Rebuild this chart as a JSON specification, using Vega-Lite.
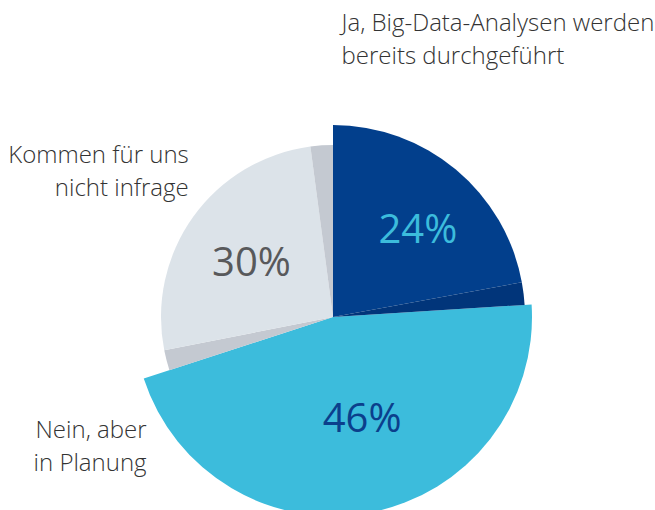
{
  "$schema": "https://vega.github.io/schema/vega-lite/v6.json",
  "width": 644,
  "height": 386,
  "autosize": {"type": "none"},
  "padding": {"left": 11, "top": 124, "right": 0, "bottom": 0},
  "background": "white",
  "config": {"view": {"stroke": null}},
  "datasets": {
    "segments": [
      {"answer": "Ja", "segment": "Ja", "share": 0.221},
      {"answer": "Ja", "segment": "Ja Kante", "share": 0.019},
      {"answer": "Nein", "segment": "Nein", "share": 0.46},
      {"answer": "Kommen", "segment": "Kommen Kante", "share": 0.019},
      {"answer": "Kommen", "segment": "Kommen", "share": 0.26},
      {"answer": "Kommen", "segment": "Kommen Kante", "share": 0.021}
    ],
    "labels": [
      {"key": "Ja", "answer": "Ja, Big-Data-Analysen werden\nbereits durchgeführt", "share": 0.24},
      {"key": "Nein", "answer": "Nein, aber\nin Planung", "share": 0.46},
      {"key": "Kommen", "answer": "Kommen für uns\nnicht infrage", "share": 0.30}
    ]
  },
  "layer": [
    {
      "data": {"name": "segments"},
      "transform": [
        {"stack": "share", "groupby": [], "as": ["s0", "s1"]},
        {"filter": "datum.answer === 'Nein'"}
      ],
      "mark": {"type": "arc", "radius": 199},
      "encoding": {
        "theta": {"field": "s0", "type": "quantitative", "stack": null, "scale": {"domain": [0, 1]}},
        "theta2": {"field": "s1"},
        "color": {"field": "segment", "type": "nominal", "legend": null,
          "scale": {"domain": ["Ja", "Ja Kante", "Nein", "Kommen", "Kommen Kante"],
                    "range": ["#023f8c", "#01357a", "#3cbcdc", "#dce3e9", "#c4c9d1"]}}
      }
    },
    {
      "data": {"name": "segments"},
      "transform": [
        {"stack": "share", "groupby": [], "as": ["s0", "s1"]},
        {"filter": "datum.answer === 'Ja'"}
      ],
      "mark": {"type": "arc", "radius": 192},
      "encoding": {
        "theta": {"field": "s0", "type": "quantitative", "stack": null, "scale": {"domain": [0, 1]}},
        "theta2": {"field": "s1"},
        "color": {"field": "segment", "type": "nominal", "legend": null}
      }
    },
    {
      "data": {"name": "segments"},
      "transform": [
        {"stack": "share", "groupby": [], "as": ["s0", "s1"]},
        {"filter": "datum.answer === 'Kommen'"}
      ],
      "mark": {"type": "arc", "radius": 172},
      "encoding": {
        "theta": {"field": "s0", "type": "quantitative", "stack": null, "scale": {"domain": [0, 1]}},
        "theta2": {"field": "s1"},
        "color": {"field": "segment", "type": "nominal", "legend": null}
      }
    },
    {
      "data": {"name": "labels"},
      "transform": [{"window": [{"op": "row_number", "as": "rank"}]}],
      "mark": {"type": "text", "radius": 121, "font": "Open Sans", "fontSize": 40, "color": "#3cbcdc", "dx": 2, "dy": 2},
      "encoding": {
        "theta": {"field": "share", "type": "quantitative", "stack": true, "scale": {"domain": [0, 1]}},
        "order": {"field": "rank", "type": "quantitative"},
        "text": {"condition": {"test": "datum.key === 'Ja'", "field": "share", "type": "quantitative", "format": ".0%"}, "value": ""}
      }
    },
    {
      "data": {"name": "labels"},
      "transform": [{"window": [{"op": "row_number", "as": "rank"}]}],
      "mark": {"type": "text", "radius": 107, "font": "Open Sans", "fontSize": 40, "color": "#0b3f8c", "dx": 9, "dy": -2},
      "encoding": {
        "theta": {"field": "share", "type": "quantitative", "stack": true, "scale": {"domain": [0, 1]}},
        "order": {"field": "rank", "type": "quantitative"},
        "text": {"condition": {"test": "datum.key === 'Nein'", "field": "share", "type": "quantitative", "format": ".0%"}, "value": ""}
      }
    },
    {
      "data": {"name": "labels"},
      "transform": [{"window": [{"op": "row_number", "as": "rank"}]}],
      "mark": {"type": "text", "radius": 97, "font": "Open Sans", "fontSize": 40, "color": "#58595b", "dx": -3, "dy": 4},
      "encoding": {
        "theta": {"field": "share", "type": "quantitative", "stack": true, "scale": {"domain": [0, 1]}},
        "order": {"field": "rank", "type": "quantitative"},
        "text": {"condition": {"test": "datum.key === 'Kommen'", "field": "share", "type": "quantitative", "format": ".0%"}, "value": ""}
      }
    },
    {
      "data": {"name": "labels"},
      "transform": [{"window": [{"op": "row_number", "as": "rank"}]}],
      "mark": {"type": "text", "radius": 214, "dx": -138, "dy": -130, "align": "left", "baseline": "alphabetic",
               "font": "Open Sans", "fontWeight": 300, "fontSize": 24, "lineBreak": "\n", "lineHeight": 33, "color": "#333333"},
      "encoding": {
        "theta": {"field": "share", "type": "quantitative", "stack": true, "scale": {"domain": [0, 1]}},
        "order": {"field": "rank", "type": "quantitative"},
        "text": {"condition": {"test": "datum.key === 'Ja'", "field": "answer"}, "value": ""}
      }
    },
    {
      "data": {"name": "labels"},
      "transform": [{"window": [{"op": "row_number", "as": "rank"}]}],
      "mark": {"type": "text", "radius": 83, "dx": -202, "dy": 39, "align": "right", "baseline": "alphabetic",
               "font": "Open Sans", "fontWeight": 300, "fontSize": 24, "lineBreak": "\n", "lineHeight": 33, "color": "#333333"},
      "encoding": {
        "theta": {"field": "share", "type": "quantitative", "stack": true, "scale": {"domain": [0, 1]}},
        "order": {"field": "rank", "type": "quantitative"},
        "text": {"condition": {"test": "datum.key === 'Nein'", "field": "answer"}, "value": ""}
      }
    },
    {
      "data": {"name": "labels"},
      "transform": [{"window": [{"op": "row_number", "as": "rank"}]}],
      "mark": {"type": "text", "radius": 208, "dx": 24, "dy": -32, "align": "right", "baseline": "alphabetic",
               "font": "Open Sans", "fontWeight": 300, "fontSize": 24, "lineBreak": "\n", "lineHeight": 33, "color": "#333333"},
      "encoding": {
        "theta": {"field": "share", "type": "quantitative", "stack": true, "scale": {"domain": [0, 1]}},
        "order": {"field": "rank", "type": "quantitative"},
        "text": {"condition": {"test": "datum.key === 'Kommen'", "field": "answer"}, "value": ""}
      }
    }
  ]
}
